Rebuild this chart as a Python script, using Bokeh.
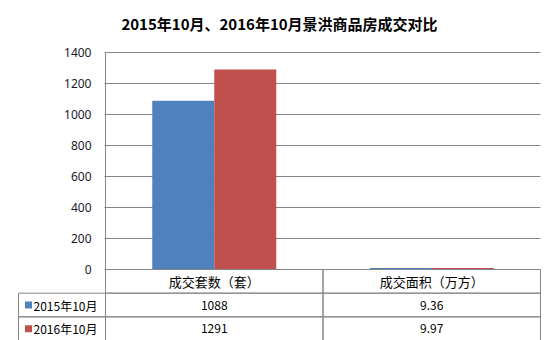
from bokeh.plotting import figure
from bokeh.models import Range1d, FixedTicker
from bokeh.embed import file_html
from bokeh.resources import INLINE
from bokeh.core.properties import value

# ---------------- data ----------------
title_text = "2015年10月、2016年10月景洪商品房成交对比"
categories = ["成交套数（套）", "成交面积（万方）"]
series_names = ["2015年10月", "2016年10月"]
values_2015 = [1088, 9.36]
values_2016 = [1291, 9.97]
labels_2015 = ["1088", "9.36"]
labels_2016 = ["1291", "9.97"]
y_ticks = [0, 200, 400, 600, 800, 1000, 1200, 1400]
colors = ["#4F81BD", "#C0504D"]

# ---------------- layout ----------------
W, H = 555, 340
GRID = "#868686"
CJK = "Noto Sans CJK SC"
FRAME_TOP = 40
ZERO_Y = 269               # pixel row of value 0 / table top
PPU_Y = 217 / 1400.0       # pixels per value unit
PPU_X = 217.5              # pixels per category column
NAME_W = 87 / PPU_X        # width of the legend-name column (category units)
T_LEFT = 16
x0 = -NAME_W - 2 / PPU_X
frame_w = W - T_LEFT - 13
x1 = x0 + frame_w / PPU_X
y_lo = -(H - ZERO_Y) / PPU_Y
y_hi = 1400 + (ZERO_Y - 217 - FRAME_TOP) / PPU_Y
n = len(categories)

p = figure(width=W, height=H,
           x_range=Range1d(x0, x1), y_range=Range1d(y_lo, y_hi),
           output_backend="svg", toolbar_location=None,
           x_axis_location=None,
           min_border_left=T_LEFT, min_border_right=W - T_LEFT - frame_w,
           min_border_top=FRAME_TOP, min_border_bottom=0)
p.outline_line_color = None
p.grid.visible = False

# table rows on their own range: 3 rows occupy the 71 px under the zero line
ROW_PX = (H - ZERO_Y) / 3.0
p.extra_y_ranges = {"table": Range1d(0, (H - FRAME_TOP) / ROW_PX)}

ax = p.yaxis[0]
ax.fixed_location = 0
ax.bounds = (0, 1400)
ax.ticker = FixedTicker(ticks=y_ticks)
ax.axis_line_color = GRID
ax.major_tick_line_color = GRID
ax.major_tick_out = 1
ax.major_tick_in = 0
ax.minor_tick_line_color = None
ax.major_label_text_font = "Noto Sans"
ax.major_label_text_font_size = "12px"
ax.major_label_text_color = "#1a1a2e"
ax.major_label_standoff = 13

p.title.text = title_text
p.title.align = "center"
p.title.offset = -6
p.title.text_font = CJK
p.title.text_font_size = "15px"
p.title.text_font_style = "bold"
p.title.text_color = "#000000"
p.title.standoff = 14

# gridlines over the category columns only
p.segment(x0=[0] * len(y_ticks), x1=[n] * len(y_ticks), y0=y_ticks, y1=y_ticks,
          line_color=GRID, line_width=1)

# bars
cx = [i + 0.5 for i in range(n)]
BW = 62 / PPU_X
p.vbar(x=[c - BW / 2 for c in cx], top=values_2015, width=BW,
       fill_color=colors[0], line_color=None)
p.vbar(x=[c + BW / 2 for c in cx], top=values_2016, width=BW,
       fill_color=colors[1], line_color=None)

# ---------------- data table ----------------
row_y = {"header": 2.5, series_names[0]: 1.5, series_names[1]: 0.5}
p.rect(x=cx, y=[row_y["header"]] * n, width=1, height=1,
       fill_color=None, line_color=GRID, y_range_name="table")
p.text(x=cx, y=[row_y["header"]] * n, text=categories,
       text_align="center", text_baseline="middle", y_range_name="table",
       text_font=value(CJK), text_font_size="13px", text_color="#000000")
for s_name, labs, col in [(series_names[0], labels_2015, colors[0]),
                          (series_names[1], labels_2016, colors[1])]:
    ry = row_y[s_name]
    p.rect(x=[-NAME_W / 2], y=[ry], width=NAME_W, height=1,
           fill_color=None, line_color=GRID, y_range_name="table")
    p.rect(x=cx, y=[ry] * n, width=1, height=1,
           fill_color=None, line_color=GRID, y_range_name="table")
    p.rect(x=[-NAME_W + 10 / PPU_X], y=[ry], width=7, height=7,
           width_units="screen", height_units="screen",
           fill_color=col, line_color=None, y_range_name="table")
    p.text(x=[-NAME_W + 15 / PPU_X], y=[ry], text=[s_name],
           text_align="left", text_baseline="middle", y_range_name="table",
           text_font=value(CJK), text_font_size="12px", text_color="#000000")
    p.text(x=cx, y=[ry] * n, text=labs,
           text_align="center", text_baseline="middle", y_range_name="table",
           text_font=value(CJK), text_font_size="12px", text_color="#000000")

open("out.html", "w").write(file_html(p, INLINE))
